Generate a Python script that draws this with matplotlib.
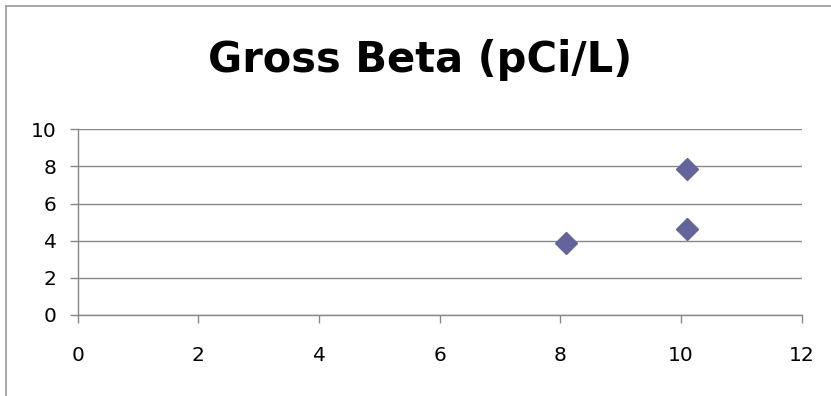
import matplotlib
matplotlib.use('Agg')
import matplotlib.pyplot as plt
from matplotlib.lines import Line2D

# sample results
x_vals = [8.1, 10.1, 10.1]
beta_vals = [3.86, 4.61, 7.85]
x_ticks = [0, 2, 4, 6, 8, 10, 12]
y_ticks = [0, 2, 4, 6, 8, 10]
title = 'Gross Beta (pCi/L)'

W, H = 831, 396
fig = plt.figure(figsize=(W / 100, H / 100), dpi=100)
ax = fig.add_axes([77.7 / W, 1 - 315 / H, 724 / W, (315 - 129.3) / H])

ax.plot(x_vals, beta_vals, linestyle='none', marker='D', markersize=11,
        color='#63649c', clip_on=False, zorder=3)

ax.set_xlim(0, 12)
ax.set_ylim(0, 10)
ax.set_xticks(x_ticks)
ax.set_yticks(y_ticks)

grid_col = '#878787'
ax.yaxis.grid(True, color=grid_col, linewidth=1)
ax.set_axisbelow(True)
for side in ['top', 'right']:
    ax.spines[side].set_visible(False)
for side in ['left', 'bottom']:
    ax.spines[side].set_color(grid_col)
    ax.spines[side].set_linewidth(1)
ax.tick_params(axis='both', direction='out', length=6, width=1, color=grid_col,
               labelsize=14.5, labelcolor='black')
ax.tick_params(axis='x', pad=16)
ax.tick_params(axis='y', pad=9)

fig.text(420 / W, 1 - 72 / H, title, ha='center', va='baseline', fontsize=30,
         fontweight='bold')

# chart frame edges
frame_col = '#a0a0a0'
fig.add_artist(Line2D([5.5 / W, 5.5 / W], [0, 1 - 5.5 / H], color=frame_col,
                      linewidth=1.3, transform=fig.transFigure))
fig.add_artist(Line2D([5.5 / W, 1], [1 - 5.5 / H, 1 - 5.5 / H], color=frame_col,
                      linewidth=1.3, transform=fig.transFigure))

fig.savefig('out.png', dpi=100)
